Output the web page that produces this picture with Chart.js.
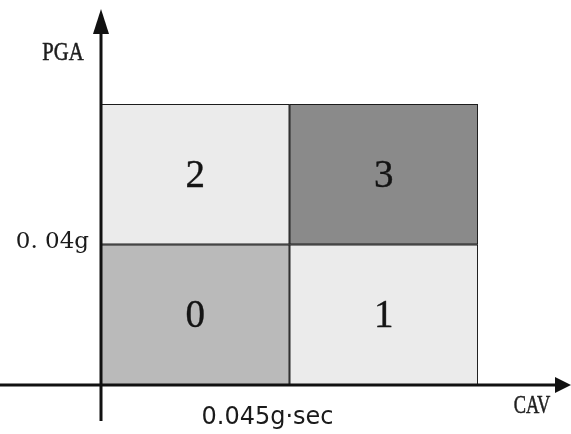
<!DOCTYPE html>
<html>
<head>
<meta charset="utf-8">
<script src="https://cdn.jsdelivr.net/npm/chart.js@4/dist/chart.umd.min.js"></script>
<style>
  html, body { margin: 0; padding: 0; background: #ffffff; }
  #wrap { position: relative; width: 571px; height: 434px; }
</style>
</head>
<body>
<div id="wrap"><canvas id="c"></canvas></div>
<script>
// ---- data ----
const cavRange = [0, 0.09];
const pgaRange = [0, 0.08];
const cavThreshold = 0.045;
const pgaThreshold = 0.04;
const cellCenters = [0.0225, 0.0675];
const lowerRowCodes = ['0', '1'];
const upperRowCodes = ['2', '3'];
const lowerRowColors = ['#bababa', '#ebebeb'];
const upperRowColors = ['#ebebeb', '#8a8a8a'];
const xTickLabels = ['0.045g·sec'];
const yTickLabels = ['0. 04g'];
const xAxisName = 'CAV';
const yAxisName = 'PGA';

const lowerData = cellCenters.map(x => ({ x: x, y: [pgaRange[0], pgaThreshold] }));
const upperData = cellCenters.map(x => ({ x: x, y: [pgaThreshold, pgaRange[1]] }));

const cellLabelPlugin = {
  id: 'cellLabels',
  afterDatasetsDraw(chart) {
    const ctx = chart.ctx;
    ctx.save();
    ctx.font = '39px "Liberation Serif"';
    ctx.fillStyle = '#141414';
    ctx.strokeStyle = '#141414';
    ctx.lineWidth = 0.4;
    ctx.textAlign = 'center';
    ctx.textBaseline = 'middle';
    chart.data.datasets.forEach((ds, di) => {
      const meta = chart.getDatasetMeta(di);
      meta.data.forEach((bar, i) => {
        const p = bar.getProps(['x', 'y', 'base'], true);
        const cy = (p.y + p.base) / 2 + 2;
        ctx.fillText(ds.codes[i], p.x, cy);
        ctx.strokeText(ds.codes[i], p.x, cy);
      });
    });
    ctx.restore();
  }
};

const axesPlugin = {
  id: 'arrowAxes',
  afterDraw(chart) {
    const ctx = chart.ctx;
    const xs = chart.scales.x, ys = chart.scales.y;
    const x0 = xs.getPixelForValue(cavRange[0]);
    const y0 = ys.getPixelForValue(pgaRange[0]);
    const W = chart.width;
    ctx.save();
    ctx.strokeStyle = '#111';
    ctx.fillStyle = '#111';
    ctx.lineWidth = 3;
    // y axis
    ctx.beginPath();
    ctx.moveTo(x0, y0 + 36);
    ctx.lineTo(x0, 30);
    ctx.stroke();
    ctx.beginPath();
    ctx.moveTo(x0, 9);
    ctx.lineTo(x0 - 8, 34);
    ctx.lineTo(x0 + 8, 34);
    ctx.closePath();
    ctx.fill();
    // x axis
    ctx.beginPath();
    ctx.moveTo(0, y0);
    ctx.lineTo(W - 14, y0);
    ctx.stroke();
    ctx.beginPath();
    ctx.moveTo(W, y0);
    ctx.lineTo(W - 16, y0 - 8);
    ctx.lineTo(W - 16, y0 + 8);
    ctx.closePath();
    ctx.fill();
    // axis names
    ctx.fillStyle = '#1e1e1e';
    ctx.strokeStyle = '#1e1e1e';
    ctx.lineWidth = 0.5;
    ctx.textAlign = 'center';
    ctx.textBaseline = 'alphabetic';
    ctx.save();
    ctx.translate(63, 60);
    ctx.scale(0.9, 1.05);
    ctx.font = '23px "Liberation Serif"';
    ctx.fillText(yAxisName, 0, 0);
    ctx.strokeText(yAxisName, 0, 0);
    ctx.restore();
    ctx.save();
    ctx.translate(532, 413);
    ctx.scale(0.8, 1.1);
    ctx.font = '23px "Liberation Serif"';
    ctx.fillText(xAxisName, 0, 0);
    ctx.strokeText(xAxisName, 0, 0);
    ctx.restore();
    ctx.restore();
  }
};

new Chart(document.getElementById('c'), {
  type: 'bar',
  data: {
    datasets: [
      { data: lowerData, codes: lowerRowCodes, backgroundColor: lowerRowColors },
      { data: upperData, codes: upperRowCodes, backgroundColor: upperRowColors }
    ]
  },
  options: {
    responsive: true,
    maintainAspectRatio: false,
    animation: false,
    layout: { padding: { top: 104, right: 93, left: 0, bottom: 0 } },
    datasets: {
      bar: {
        grouped: false,
        barPercentage: 1,
        categoryPercentage: 1,
        borderColor: '#1c1c1c',
        borderWidth: 1.3,
        borderSkipped: false
      }
    },
    plugins: { legend: { display: false }, tooltip: { enabled: false } },
    scales: {
      x: {
        type: 'linear',
        min: cavRange[0],
        max: cavRange[1],
        offset: false,
        grid: { display: false, drawTicks: false, offset: false },
        border: { display: false },
        afterBuildTicks: s => { s.ticks = [{ value: cavThreshold }]; },
        afterFit: s => { s.height = 49; },
        ticks: {
          callback: (v, i) => xTickLabels[i],
          font: { family: 'DejaVu Sans', size: 24 },
          color: '#1a1a1a',
          padding: 18,
          labelOffset: -22,
          maxRotation: 0,
          autoSkip: false
        }
      },
      y: {
        type: 'linear',
        min: pgaRange[0],
        max: pgaRange[1],
        grid: { display: false, drawTicks: false },
        border: { display: false },
        afterBuildTicks: s => { s.ticks = [{ value: pgaThreshold }]; },
        afterFit: s => { s.width = 101; },
        ticks: {
          callback: (v, i) => yTickLabels[i],
          font: { family: 'DejaVu Serif', size: 23 },
          color: '#1a1a1a',
          padding: 12,
          labelOffset: -2,
          autoSkip: false
        }
      }
    }
  },
  plugins: [cellLabelPlugin, axesPlugin]
});
</script>
</body>
</html>
